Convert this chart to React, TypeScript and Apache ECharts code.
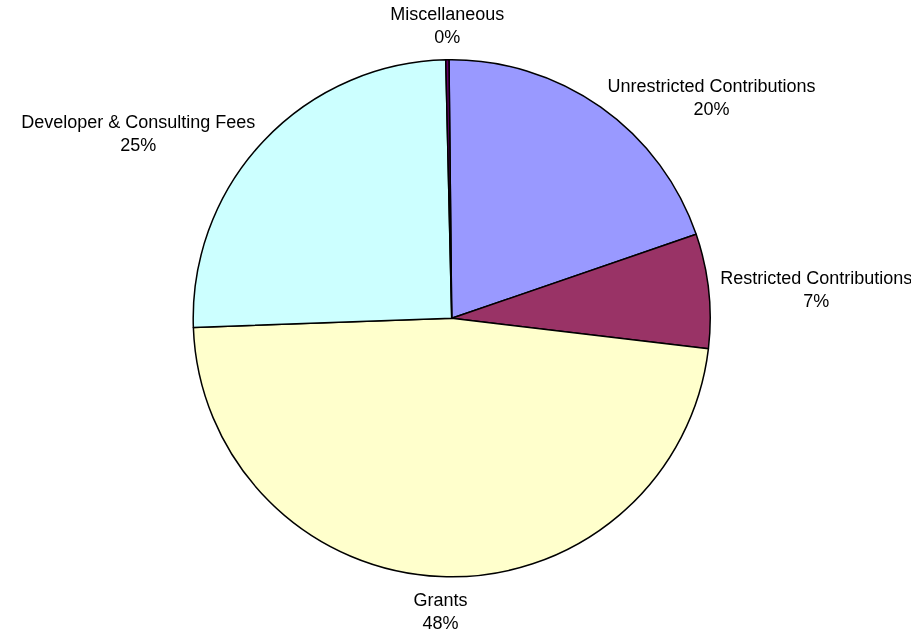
import React, { useEffect, useRef } from "react";
import * as echarts from "echarts";

const categories = [
  "Unrestricted Contributions",
  "Restricted Contributions",
  "Grants",
  "Developer & Consulting Fees",
  "Miscellaneous",
];
const values = [19.9, 7.15, 47.55, 25.2, 0.2];
const colors = ["#9999FF", "#993366", "#FFFFCC", "#CCFFFF", "#660066"];

const CX = 451.7;
const CY = 318.3;
const R = 258.5;
const START = 90.6;
const GAP = 11.5;

export default function App() {
  const ref = useRef<HTMLDivElement>(null);
  useEffect(() => {
    const chart = echarts.init(ref.current!, null, { renderer: "svg" });
    const total = values.reduce((a, b) => a + b, 0);
    const mids: number[] = [];
    let acc = 0;
    values.forEach((v) => {
      mids.push(START - ((acc + v / 2) / total) * 360);
      acc += v;
    });
    chart.setOption({
      animation: false,
      series: [
        {
          type: "pie",
          center: [CX, CY],
          radius: R,
          startAngle: START,
          clockwise: true,
          avoidLabelOverlap: false,
          data: categories.map((name, i) => ({
            name,
            value: values[i],
            itemStyle: { color: colors[i] },
          })),
          itemStyle: { borderColor: "#000", borderWidth: 1.5 },
          label: {
            show: true,
            position: "outside",
            formatter: (p: any) => `${p.name}\n${Math.round(p.percent)}%`,
            color: "#000",
            fontSize: 18,
            lineHeight: 23,
            fontFamily: 'Arial, "Liberation Sans", sans-serif',
          },
          labelLine: { show: false },
          emphasis: { disabled: true },
          labelLayout: (p: any) => {
            const a = (mids[p.dataIndex] * Math.PI) / 180;
            const ux = Math.cos(a);
            const uy = -Math.sin(a);
            let x = CX + ux * (R + GAP);
            let y = CY + uy * (R + GAP);
            const w = p.labelRect.width;
            const h = p.labelRect.height;
            if (Math.abs(ux) >= 0.5) x += Math.sign(ux) * (w / 2);
            else y += Math.sign(uy) * (h / 2);
            return { x, y, align: "center", verticalAlign: "middle" };
          },
        },
      ],
    });
    return () => chart.dispose();
  }, []);
  return (
    <div
      ref={ref}
      style={{ position: "fixed", left: 0, top: 0, width: 911, height: 633 }}
    />
  );
}
